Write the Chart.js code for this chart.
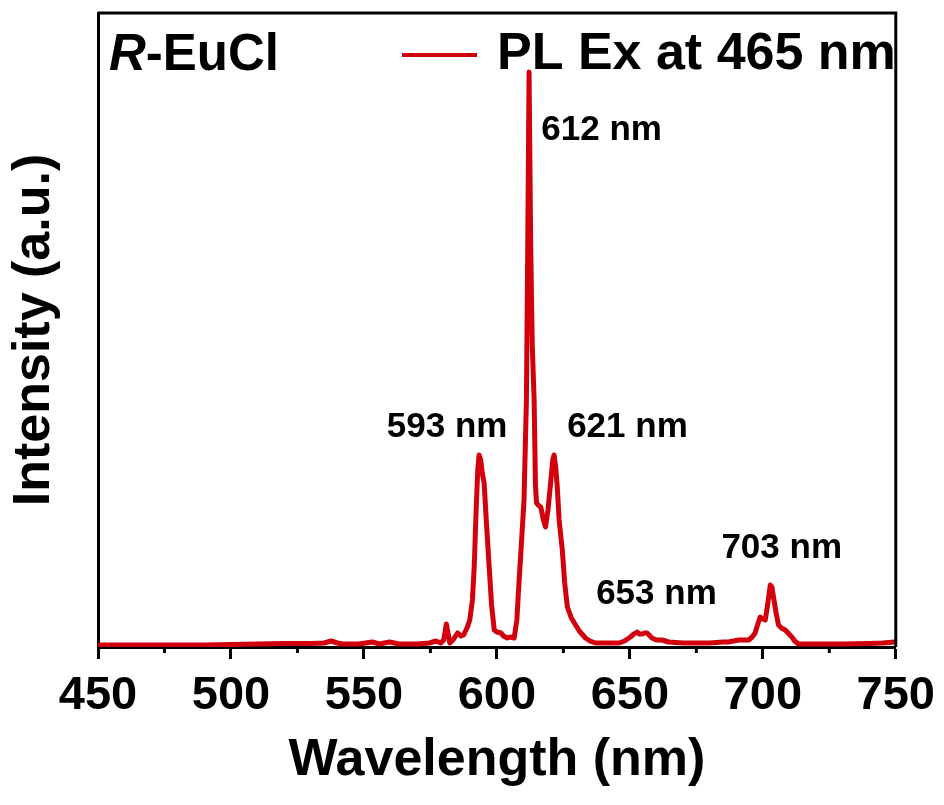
<!DOCTYPE html>
<html><head><meta charset="utf-8">
<script src="https://cdn.jsdelivr.net/npm/chart.js@4.4.1/dist/chart.umd.min.js"></script>
<style>html,body{margin:0;padding:0;background:#fff;}</style>
</head><body>
<canvas id="c" width="944" height="805"></canvas>
<script>
// ---- data ----
const wavelength = [450,460,470,480,490,500,510,520,530,535,537.7,540,542,548,553.2,555.8,559.6,563.3,570,574.6,577.1,578.9,580,581,582.3,583.5,585.2,586.5,587.5,588.9,589.8,590.8,591.5,592.1,592.8,593.3,593.9,594.5,595.2,596,597.1,598,599,600,601.5,602.5,603.9,605,606.5,607.5,608.3,609.3,610.2,611.1,611.6,612.1,612.7,613.3,614,614.5,614.9,615.5,616.5,617.5,618.3,619.2,620.2,621,621.5,622.1,622.7,623.4,624.6,625.5,626.5,628,629.6,631,633.3,635,637.1,640,643,645.9,648,650.2,651.5,652.7,653.6,654.6,655.5,656.5,658.3,660,662.1,664.6,670,675.8,680,685,687.1,690.9,694.7,696,697.1,698,699,700,700.9,701.8,702.8,703.4,704,705,705.9,707,708.4,709.5,710.9,712,713.4,718,723.4,730,740,745,749.7,750];
const intensity  = [0,0,0,0,0,0.5,1,1.5,1.5,2,4,2,1,1,3,1,3,1,1,2,4,2,5,21,2,5,12,9,10,18,25,45,80,128,175,190,185,172,162,125,78,40,15,13,12,9,7,8,7,25,62,105,145,245,400,573,400,300,245,160,142,140,138,125,118,135,162,185,190,178,158,125,95,62,38,27,20,14,7,4,2,2,2,2,4,8,11,13,11,11,12,12,7,5,5,3,2,2,2,3,3,5,5,8,12,20,28,26,25,40,60,58,48,32,20,17,15,12,8,4,1,1,1,1,1.5,2,3,3];
const xTickValues = [450,500,550,600,650,700,750];
const xMinorTickValues = [475,525,575,625,675,725];
const peakLabels = ['593 nm','612 nm','621 nm','653 nm','703 nm'];
const peakLabelX = [581.3,639.4,649.1,660,707.1];
const peakLabelY = [208,505,208,41,87];
const seriesName = 'PL Ex at 465 nm';
const sampleItalic = 'R';
const sampleRest = '-EuCl';
const xTitle = 'Wavelength (nm)';
const yTitle = 'Intensity (a.u.)';

const RED = 'rgb(210,0,12)';
const FONT = '"Liberation Sans", Arial, sans-serif';

const extras = {
  id: 'extras',
  afterDraw(chart) {
    const ctx = chart.ctx, a = chart.chartArea, xs = chart.scales.x, ys = chart.scales.y;
    ctx.save();
    // frame (top & right)
    ctx.strokeStyle = '#000'; ctx.lineWidth = 3;
    ctx.beginPath();
    ctx.moveTo(a.left, a.top); ctx.lineTo(a.right, a.top); ctx.lineTo(a.right, a.bottom);
    ctx.stroke();
    // minor ticks
    ctx.beginPath();
    xMinorTickValues.forEach(v => { const px = xs.getPixelForValue(v); ctx.moveTo(px, a.bottom); ctx.lineTo(px, a.bottom + 6); });
    ctx.stroke();
    // peak labels
    ctx.fillStyle = '#000';
    ctx.font = 'bold 35px ' + FONT;
    ctx.textAlign = 'center'; ctx.textBaseline = 'alphabetic';
    peakLabels.forEach((t, i) => ctx.fillText(t, xs.getPixelForValue(peakLabelX[i]), ys.getPixelForValue(peakLabelY[i])));
    // sample name
    ctx.textAlign = 'left';
    ctx.font = 'italic bold 51px ' + FONT;
    const x0 = a.left + 11, yb = 70;
    ctx.fillText(sampleItalic, x0, yb);
    const w = ctx.measureText(sampleItalic).width;
    ctx.font = 'bold 51px ' + FONT;
    ctx.fillText(sampleRest, x0 + w, yb);
    // legend
    ctx.strokeStyle = RED; ctx.lineWidth = 4;
    ctx.beginPath(); ctx.moveTo(402, 55); ctx.lineTo(477, 55); ctx.stroke();
    ctx.font = 'bold 52px ' + FONT;
    ctx.fillText(seriesName, 497, 69);
    ctx.restore();
  }
};

new Chart(document.getElementById('c'), {
  type: 'line',
  data: { datasets: [{ label: seriesName, data: wavelength.map((x, i) => ({x, y: intensity[i]})),
    borderColor: RED, borderWidth: 5, borderJoinStyle: 'round', borderCapStyle: 'round', pointRadius: 0, tension: 0, fill: false }] },
  options: {
    responsive: false, animation: false, devicePixelRatio: 1,
    layout: { padding: { top: 13, right: 46, left: 0, bottom: 0 } },
    plugins: { legend: { display: false }, tooltip: { enabled: false } },
    scales: {
      x: {
        type: 'linear', min: 450, max: 750,
        afterBuildTicks: s => { s.ticks = xTickValues.map(v => ({ value: v })); },
        afterFit: s => { s.height = 158; },
        grid: { drawOnChartArea: false, drawTicks: true, tickLength: 12, tickWidth: 3, tickColor: '#000' },
        border: { display: true, width: 3, color: '#000' },
        ticks: { color: '#000', padding: 9, maxRotation: 0, autoSkip: false, font: { family: FONT, size: 47, weight: 'bold' } },
        title: { display: true, text: xTitle, color: '#000', font: { family: FONT, size: 52, weight: 'bold' }, padding: { top: 0, bottom: 13 } }
      },
      y: {
        min: -2, max: 632,
        afterFit: s => { s.width = 98; },
        grid: { display: false },
        border: { display: true, width: 3, color: '#000' },
        ticks: { display: false },
        title: { display: true, text: yTitle, color: '#000', font: { family: FONT, size: 52, weight: 'bold' }, padding: { top: 3, bottom: 0 } }
      }
    }
  },
  plugins: [extras]
});
</script>
</body></html>
